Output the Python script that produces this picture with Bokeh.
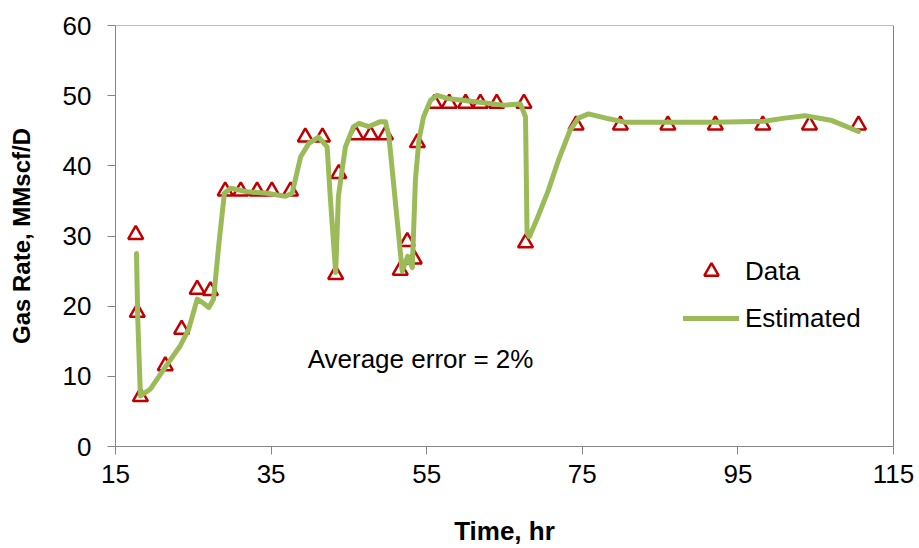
from bokeh.plotting import figure
from bokeh.models import Range1d, FixedTicker, Span, Label, Legend, LegendItem
from bokeh.embed import file_html
from bokeh.resources import INLINE

# ---- data ----
data_time = [17.6, 17.8, 18.2, 21.4, 23.5, 25.5, 27.2, 29.1, 31.1, 33.2, 35.1, 37.5,
             39.4, 41.6, 43.3, 43.7, 45.9, 47.8, 49.7, 51.6, 52.5, 53.4, 53.8,
             56.0, 57.9, 60.0, 61.9, 64.0, 67.5, 67.7,
             74.2, 79.9, 86.0, 92.1, 98.2, 104.2, 110.5]
data_rate = [30.2, 19.1, 7.1, 11.5, 16.7, 22.4, 22.2, 36.4, 36.4, 36.4, 36.4, 36.4,
             44.1, 44.1, 24.5, 38.9, 44.4, 44.4, 44.4, 25.1, 29.2, 26.7, 43.3,
             48.9, 48.9, 48.9, 48.9, 48.9, 48.9, 29.0,
             45.8, 45.8, 45.8, 45.8, 45.8, 45.8, 45.8]

est_time = [17.7, 17.85, 18.2, 19.5, 21.4, 23.35, 24.4, 25.5, 26.2, 27.0, 27.6, 28.3, 29.0, 29.8,
            31.9, 34.5, 36.85, 37.7, 38.8, 39.85, 41.1, 42.2, 42.6, 43.3, 43.65, 44.55,
            45.6, 46.3, 47.55, 49.05, 49.7, 50.15, 51.85, 52.55, 53.15, 53.55, 54.0,
            54.6, 55.5, 56.35, 57.65, 61.5, 64.9, 67.05, 67.7, 67.9, 68.2, 69.2, 70.6, 71.9,
            73.4, 74.5, 75.8, 78.4, 80.6, 92.3, 98.4, 101.0, 103.6, 107.1, 110.5]
est_rate = [27.5, 18.6, 7.2, 8.2, 11.3, 14.4, 16.7, 21.0, 20.5, 19.8, 21.0, 29.0, 36.1, 36.8,
            36.3, 36.1, 35.65, 36.1, 41.3, 43.2, 44.1, 42.7, 35.65, 24.8, 35.65, 42.7,
            45.6, 46.05, 45.6, 46.3, 46.3, 44.15, 25.0, 27.1, 25.5, 38.0, 43.7,
            47.0, 49.35, 50.05, 49.6, 49.1, 48.65, 48.8, 47.0, 30.45, 29.9, 32.5, 36.4, 40.7,
            45.0, 46.8, 47.4, 46.7, 46.2, 46.2, 46.35, 46.8, 47.15, 46.45, 44.9]

x_ticks = [15, 35, 55, 75, 95, 115]
y_ticks = [0, 10, 20, 30, 40, 50, 60]

FONT = "Liberation Sans"
GREEN = "#9BBB59"
RED = "#C00000"
AXIS_GREY = "#868686"

p = figure(width=919, height=548, output_backend="svg", toolbar_location=None,
           x_range=Range1d(15, 115), y_range=Range1d(0, 60),
           min_border_left=115, min_border_right=26, min_border_top=25,
           min_border_bottom=100)
p.outline_line_color = None
p.xgrid.visible = False
p.ygrid.visible = False
p.background_fill_color = "white"
p.border_fill_color = "white"

pts_r = p.scatter(data_time, data_rate, marker="triangle", size=15,
                  fill_color=None, line_color=RED, line_width=2.5)
line_r = p.line(est_time, est_rate, line_color=GREEN, line_width=5,
                line_join="round", line_cap="round")

for ax in (p.xaxis[0], p.yaxis[0]):
    ax.axis_line_color = AXIS_GREY
    ax.major_tick_line_color = AXIS_GREY
    ax.major_tick_out = 8
    ax.major_tick_in = 0
    ax.minor_tick_line_color = None
    ax.major_label_text_font = FONT
    ax.major_label_text_font_size = "26px"
    ax.major_label_text_color = "#000000"
    ax.axis_label_text_font = FONT
    ax.axis_label_text_font_style = "bold"
    ax.axis_label_text_color = "#000000"

p.xaxis.ticker = FixedTicker(ticks=x_ticks)
p.yaxis.ticker = FixedTicker(ticks=y_ticks)
p.xaxis.major_label_standoff = 10
p.yaxis.major_label_standoff = 16

p.xaxis.axis_label = "Time, hr"
p.xaxis.axis_label_text_font_size = "26px"
p.xaxis.axis_label_standoff = 30
p.yaxis.axis_label = "Gas Rate, MMscf/D"
p.yaxis.axis_label_text_font_size = "24px"
p.yaxis.axis_label_standoff = 25

p.add_layout(Span(location=60, dimension="width", line_color="#7f7f7f", line_width=1))
p.add_layout(Span(location=115, dimension="height", line_color="#000000", line_width=1))

p.add_layout(Label(x=39.7, y=12.5, text="Average error = 2%", text_font=FONT,
                   text_font_size="26px", text_color="#000000",
                   text_baseline="alphabetic"))

legend = Legend(items=[LegendItem(label="Data", renderers=[pts_r]),
                       LegendItem(label="Estimated", renderers=[line_r])],
                location=(568, 110), orientation="vertical",
                glyph_width=56, glyph_height=36, label_height=36, spacing=11,
                label_standoff=6, padding=0, margin=0,
                border_line_color=None, background_fill_alpha=0,
                label_text_font=FONT, label_text_font_size="26px",
                label_text_color="#000000")
p.add_layout(legend)

open("out.html", "w").write(file_html(p, INLINE))
